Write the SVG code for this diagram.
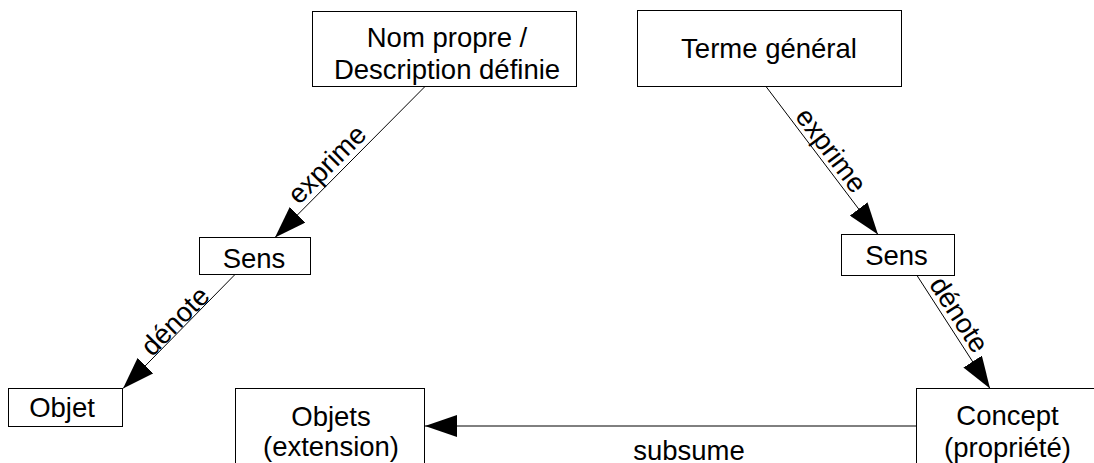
<svg xmlns="http://www.w3.org/2000/svg" width="1094" height="463" viewBox="0 0 1094 463">
<style>
.box{fill:#fff;stroke:#000;stroke-width:1}
.t{font-family:"Liberation Sans",Arial,sans-serif;font-size:27.5px;fill:#000;text-anchor:middle}
.c{stroke:#000;stroke-width:1;fill:none;marker-end:url(#ah)}
</style>
<defs>
<marker id="ah" viewBox="0 0 32 22" refX="32" refY="11" markerWidth="32" markerHeight="22" markerUnits="userSpaceOnUse" orient="auto">
<path d="M0,0 L32,11 L0,22 z" fill="#000"/>
</marker>
</defs>
<rect width="1094" height="463" fill="#fff"/>
<g id="connectors">
<line class="c" x1="425" y1="86.5" x2="275" y2="237.5"/>
<line class="c" x1="766" y1="86.5" x2="878" y2="234.5"/>
<line class="c" x1="235" y1="274.5" x2="123" y2="388.5"/>
<line class="c" x1="917" y1="275.5" x2="990" y2="388.5"/>
<line class="c" x1="916.5" y1="426" x2="425" y2="426"/>
<text class="t" transform="translate(337,174.4) rotate(-45.2)" y="-5">exprime</text>
<text class="t" transform="translate(820.5,158.2) rotate(53)" y="-4">exprime</text>
<text class="t" transform="translate(182.4,328.2) rotate(-45.4)" y="-1">dénote</text>
<text class="t" transform="translate(947.1,322.4) rotate(57)" y="-5">dénote</text>
<text class="t" x="689" y="460">subsume</text>
</g>
<g id="n-nom">
<rect class="box" x="312.5" y="11.5" width="264" height="75"/>
<text class="t" x="447" y="46.7">Nom propre /</text>
<text class="t" x="447" y="79">Description définie</text>
</g>
<g id="n-terme">
<rect class="box" x="637.5" y="10.5" width="264" height="76"/>
<text class="t" x="769" y="58.3">Terme général</text>
</g>
<g id="n-sens1">
<rect class="box" x="199.5" y="237.5" width="111" height="37"/>
<text class="t" x="254" y="268">Sens</text>
</g>
<g id="n-sens2">
<rect class="box" x="841.5" y="234.5" width="113" height="41"/>
<text class="t" x="896.5" y="265">Sens</text>
</g>
<g id="n-objet">
<rect class="box" x="8.5" y="388.5" width="114" height="38"/>
<text class="t" x="62" y="417.3">Objet</text>
</g>
<g id="n-objets">
<rect class="box" x="235.5" y="388.5" width="189" height="100"/>
<text class="t" x="331" y="425.7">Objets</text>
<text class="t" x="331" y="456">(extension)</text>
</g>
<g id="n-concept">
<rect class="box" x="916.5" y="388.5" width="200" height="100"/>
<text class="t" x="1007.5" y="425">Concept</text>
<text class="t" x="1007.5" y="456.7">(propriété)</text>
</g>
</svg>
